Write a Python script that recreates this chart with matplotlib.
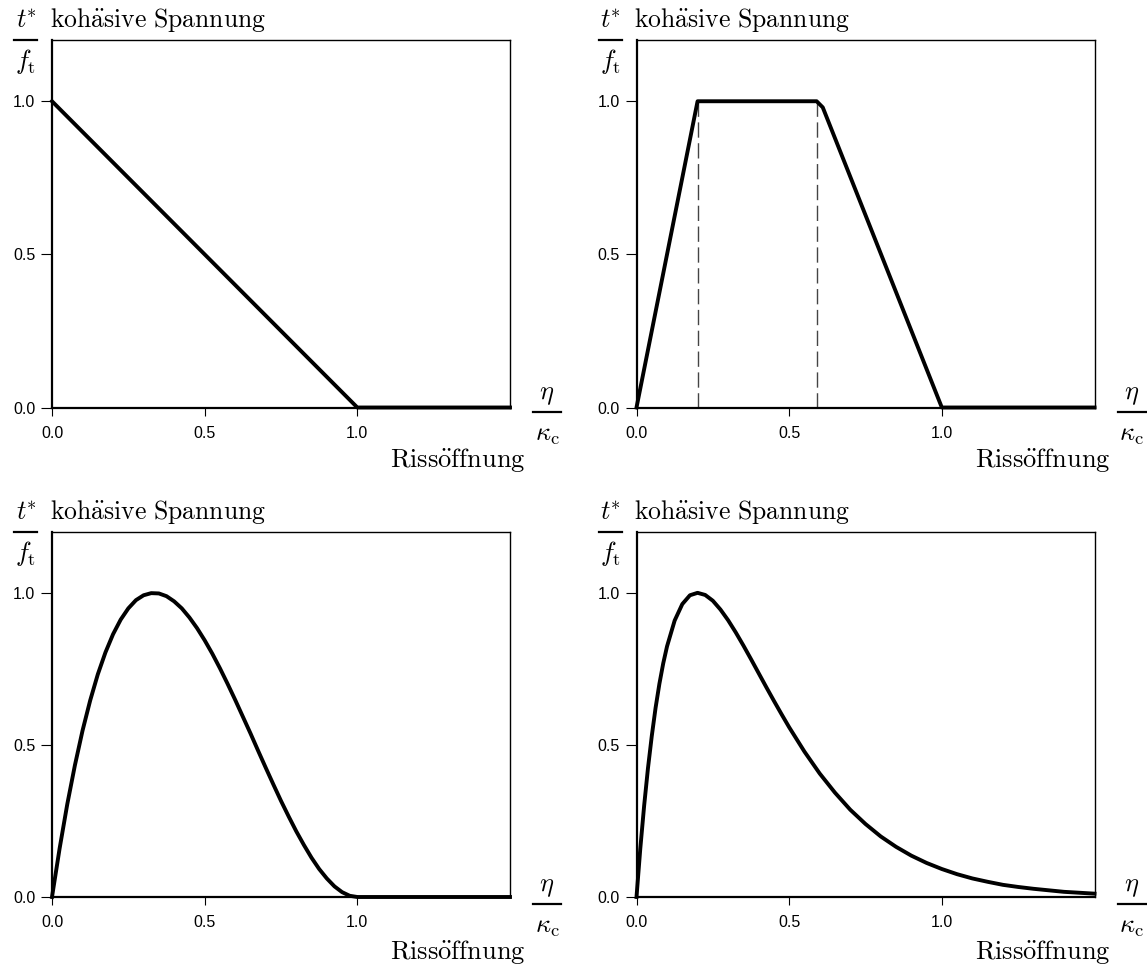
import matplotlib
matplotlib.use("Agg")
import matplotlib.pyplot as plt
from matplotlib.lines import Line2D

plt.rcParams['mathtext.fontset'] = 'cm'
plt.rcParams['font.family'] = ['Liberation Sans', 'DejaVu Sans']

W, H = 1147, 969

# values: x = eta/kappa_c, y = t*/f_t
lin_x = [0.0, 1.0, 1.5]
lin_y = [1.0, 0.0, 0.0]

trap_x = [0.0, 0.2, 0.59, 0.61, 1.0, 1.5]
trap_y = [0.0, 1.0, 1.0, 0.98, 0.0, 0.0]
trap_dash_x = [0.2, 0.59]

poly_x = [0.0, 0.025, 0.05, 0.075, 0.1, 0.125, 0.15, 0.175, 0.2, 0.225, 0.25, 0.275,
          0.3, 0.325, 0.35, 0.375, 0.4, 0.425, 0.45, 0.475, 0.5, 0.525, 0.55, 0.575,
          0.6, 0.625, 0.65, 0.675, 0.7, 0.725, 0.75, 0.775, 0.8, 0.825, 0.85, 0.875,
          0.9, 0.925, 0.95, 0.975, 1.0, 1.5]
poly_y = [0.0, 0.160, 0.305, 0.433, 0.547, 0.646, 0.732, 0.804, 0.864, 0.912, 0.949, 0.976,
          0.992, 0.999, 0.998, 0.989, 0.972, 0.949, 0.919, 0.884, 0.844, 0.800, 0.752, 0.701,
          0.648, 0.593, 0.538, 0.481, 0.425, 0.370, 0.316, 0.265, 0.216, 0.171, 0.129, 0.092,
          0.061, 0.035, 0.016, 0.004, 0.0, 0.0]

exp_x = [0.0, 0.0125, 0.025, 0.0375, 0.05, 0.0625, 0.075, 0.0875, 0.1, 0.125, 0.15, 0.175,
         0.2, 0.225, 0.25, 0.275, 0.3, 0.325, 0.35, 0.375, 0.4, 0.425, 0.45, 0.475, 0.5,
         0.55, 0.6, 0.65, 0.7, 0.75, 0.8, 0.85, 0.9, 0.95, 1.0, 1.05, 1.1, 1.15, 1.2,
         1.25, 1.3, 1.35, 1.4, 1.45, 1.5]
exp_y = [0.0, 0.160, 0.300, 0.423, 0.529, 0.622, 0.701, 0.768, 0.824, 0.909, 0.963, 0.992,
         1.0, 0.993, 0.974, 0.945, 0.910, 0.870, 0.827, 0.782, 0.736, 0.690, 0.645, 0.601, 0.558,
         0.478, 0.406, 0.343, 0.287, 0.240, 0.199, 0.165, 0.136, 0.112, 0.092, 0.075, 0.061, 0.050, 0.040,
         0.033, 0.027, 0.022, 0.017, 0.014, 0.011]

ticks = [0.0, 0.5, 1.0]
tick_labels = ["0.0", "0.5", "1.0"]


def fx(px):
    return px / W


def fy(py):
    return 1 - py / H


fig = plt.figure(figsize=(W / 100, H / 100), dpi=100)

# axes boxes in pixels: left, top, right, bottom
boxes = [(52, 40, 510, 407.5), (636.5, 40, 1094.5, 407.5),
         (52, 532, 510, 897), (636.5, 532, 1094.5, 897)]
curves = [(lin_x, lin_y), (trap_x, trap_y), (poly_x, poly_y), (exp_x, exp_y)]

for i, (box, (cx, cy)) in enumerate(zip(boxes, curves)):
    l, t, r, b = box
    ax = fig.add_axes([fx(l), fy(b), (r - l) / W, (b - t) / H])
    ax.plot(cx, cy, color='black', lw=2.8, clip_on=False, zorder=5,
            solid_joinstyle='round')
    if i == 1:
        ax.vlines(trap_dash_x, 0, 1, colors='#444444', linestyles=(0, (11, 4)), lw=1.0)
    ax.set_xlim(0, 1.5)
    ax.set_ylim(0, 1.2)
    ax.set_xticks(ticks)
    ax.set_xticklabels(tick_labels)
    ax.set_yticks(ticks)
    ax.set_yticklabels(tick_labels)
    ax.tick_params(axis='x', direction='out', length=6, width=0.8, pad=7, labelsize=11.5)
    ax.tick_params(axis='y', direction='out', length=8, width=0.8, pad=4, labelsize=11.5)
    for side in ['left', 'bottom']:
        ax.spines[side].set_linewidth(1.6)
    for side in ['top', 'right']:
        ax.spines[side].set_linewidth(1.0)

    ox = l - 52
    oy = t - 40
    fig.text(fx(26 + ox), fy(21 + oy), r'$t^{\!\!*}$', ha='center', va='center', fontsize=19)
    fig.add_artist(Line2D([fx(14 + ox), fx(37 + ox)], [fy(40 + oy)] * 2, color='black', lw=1.6))
    fig.text(fx(26 + ox), fy(62 + oy), r'$f_\mathrm{t}$', ha='center', va='center', fontsize=19)
    fig.text(fx(50 + ox), fy(27.5 + oy), r'$\mathrm{koh\ddot{a}sive\ Spannung}$',
             ha='left', va='baseline', fontsize=18.5)
    fig.text(fx(526 + ox), fy(467 + oy), r'$\mathrm{Riss\ddot{o}ffnung}$',
             ha='right', va='baseline', fontsize=19)
    fig.text(fx(547 + ox), fy(395 + oy), r'$\eta$', ha='center', va='center', fontsize=19)
    fig.add_artist(Line2D([fx(533 + ox), fx(561 + ox)], [fy(412 + oy)] * 2, color='black', lw=1.6))
    fig.text(fx(547 + ox), fy(435 + oy), r'$\kappa_\mathrm{c}$', ha='center', va='center', fontsize=19)

fig.savefig("out.png", dpi=100)
